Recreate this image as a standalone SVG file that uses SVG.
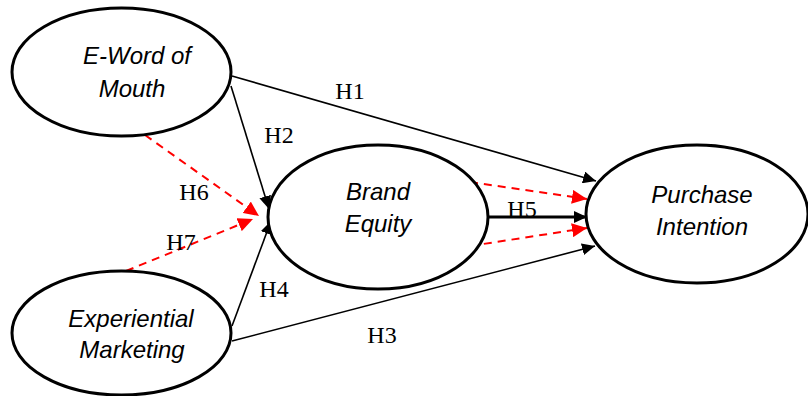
<svg xmlns="http://www.w3.org/2000/svg" width="808" height="396" viewBox="0 0 808 396">
<defs>
<style>
.node{fill:#fff;stroke:#000;stroke-width:3}
.nt{font-family:"Liberation Sans",Arial,sans-serif;font-style:italic;font-size:24px;fill:#000;text-anchor:middle}
.lbl{font-family:"Liberation Serif","Times New Roman",serif;font-size:24px;fill:#000;text-anchor:middle}
.ln{stroke:#000;stroke-width:1.6;fill:none}
.thick{stroke:#000;stroke-width:3;fill:none}
.rd{stroke:#ff0000;stroke-width:2;stroke-dasharray:8 6;fill:none}
</style>
<marker id="ab" markerUnits="userSpaceOnUse" markerWidth="14" markerHeight="12" refX="13" refY="6" orient="auto">
<path d="M0,0 L13,6 L0,12 z" fill="#000"/>
</marker>
<marker id="ar" markerUnits="userSpaceOnUse" markerWidth="16" markerHeight="14" refX="15" refY="7" orient="auto">
<path d="M0,0 L15,7 L0,14 z" fill="#ff0000"/>
</marker>
</defs>
<rect width="808" height="396" fill="#fff"/>
<g id="connectors">
<line class="ln" x1="232" y1="76" x2="596" y2="181" marker-end="url(#ab)"/>
<line class="ln" x1="231" y1="86" x2="269" y2="209" marker-end="url(#ab)"/>
<line class="ln" x1="232" y1="326" x2="271" y2="221" marker-end="url(#ab)"/>
<line class="ln" x1="232" y1="341" x2="595" y2="246" marker-end="url(#ab)"/>
<line class="thick" x1="488" y1="217" x2="587" y2="217" marker-end="url(#ab)"/>
<line class="rd" x1="470" y1="182" x2="587" y2="199" marker-end="url(#ar)"/>
<line class="rd" x1="470" y1="246" x2="587" y2="228" marker-end="url(#ar)"/>
<line class="rd" x1="145" y1="135" x2="259" y2="216" marker-end="url(#ar)"/>
<line class="rd" x1="126" y1="271" x2="253" y2="219" marker-end="url(#ar)"/>
<text class="lbl" x="350" y="99">H1</text>
<text class="lbl" x="279" y="143">H2</text>
<text class="lbl" x="382" y="343">H3</text>
<text class="lbl" x="274" y="297">H4</text>
<text class="lbl" x="522" y="217">H5</text>
<text class="lbl" x="194" y="200">H6</text>
<text class="lbl" x="181" y="250">H7</text>
</g>
<g id="ewom">
<ellipse class="node" cx="121.5" cy="72" rx="109.5" ry="64"/>
<text class="nt" x="137" y="64">E-Word of</text>
<text class="nt" x="132" y="97">Mouth</text>
</g>
<g id="experiential">
<ellipse class="node" cx="121.5" cy="333" rx="109.5" ry="62"/>
<text class="nt" x="131" y="327">Experiential</text>
<text class="nt" x="132" y="358">Marketing</text>
</g>
<g id="brand">
<ellipse class="node" cx="378" cy="217" rx="110" ry="72"/>
<text class="nt" x="378" y="200">Brand</text>
<text class="nt" x="378" y="232">Equity</text>
</g>
<g id="purchase">
<ellipse class="node" cx="697" cy="214" rx="111" ry="69"/>
<text class="nt" x="702" y="203">Purchase</text>
<text class="nt" x="702" y="235">Intention</text>
</g>
</svg>
